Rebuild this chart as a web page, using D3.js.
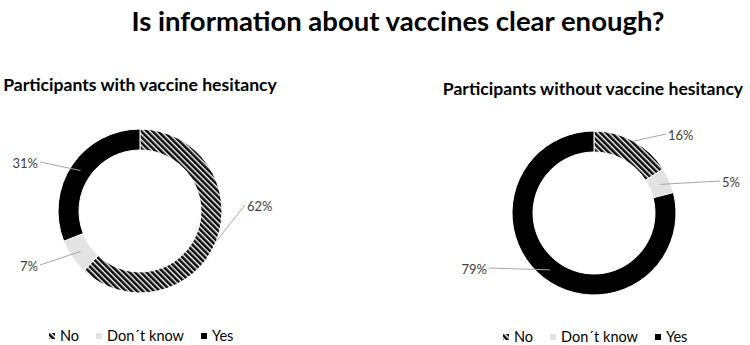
<!DOCTYPE html>
<html>
<head>
<meta charset="utf-8">
<script src="https://cdn.jsdelivr.net/npm/d3@7"></script>
<style>
 body { margin: 0; background: #fff; }
 text { font-family: Lato, "Open Sans", sans-serif; }
</style>
</head>
<body>
<script>
// data
var categories = ["No", "Don\u00b4t know", "Yes"];
var hesitantValues = [62, 7, 31];
var nonHesitantValues = [16, 5, 79];
var panelTitles = ["Participants with vaccine hesitancy", "Participants without vaccine hesitancy"];
var mainTitle = "Is information about vaccines clear enough?";

var width = 750, height = 345;
var outerR = 82, innerR = 61;

var svg = d3.select("body").append("svg")
 .attr("width", width)
 .attr("height", height);

// hatch pattern for "No"
var defs = svg.append("defs");
defs.append("pattern")
 .attr("id", "hatch")
 .attr("patternUnits", "userSpaceOnUse")
 .attr("width", 4)
 .attr("height", 4)
 .attr("patternTransform", "rotate(-45)")
 .call(function(p) {
  p.append("rect").attr("width", 4).attr("height", 4).attr("fill", "#fff");
  p.append("rect").attr("width", 2.6).attr("height", 4).attr("fill", "#0a0a0a");
 });

var fills = ["url(#hatch)", "#e3e3e3", "#000"];
var color = d3.scaleOrdinal().domain(categories).range(fills);

svg.append("text")
 .attr("x", 398)
 .attr("y", 31)
 .attr("text-anchor", "middle")
 .attr("font-size", 27.5)
 .attr("font-weight", "bold")
 .attr("fill", "#000")
 .text(mainTitle);

var pie = d3.pie().sort(null);
var arc = d3.arc().innerRadius(innerR).outerRadius(outerR);

// panel layouts (centres, title spots, label offsets from centre)
var panels = [
 {
  values: hesitantValues, cx: 140, cy: 211, tx: 140, ty: 91,
  labels: [
   { dx: 107, dy: -5, anchor: "start", lineR: 82 },
   { dx: -102, dy: 55, anchor: "end", lineR: 72 },
   { dx: -102, dy: -48, anchor: "end", lineR: 72 }
  ],
  legendX: 49, legendY: 336
 },
 {
  values: nonHesitantValues, cx: 594, cy: 213, tx: 593, ty: 95,
  labels: [
   { dx: 74, dy: -78, anchor: "start", lineR: 82 },
   { dx: 128, dy: -31, anchor: "start", lineR: 72 },
   { dx: -107, dy: 56, anchor: "end", lineR: 72 }
  ],
  legendX: 503, legendY: 337
 }
];

panels.forEach(function(p, pi) {
 svg.append("text")
  .attr("x", p.tx)
  .attr("y", p.ty)
  .attr("text-anchor", "middle")
  .attr("font-size", 17.6)
  .attr("font-weight", "bold")
  .attr("fill", "#000")
  .text(panelTitles[pi]);

 var g = svg.append("g")
  .attr("transform", "translate(" + p.cx + "," + p.cy + ")");

 var arcs = pie(p.values);

 g.selectAll("path")
  .data(arcs)
  .enter().append("path")
  .attr("d", arc)
  .attr("fill", function(d, i) { return color(categories[i]); })
  .attr("stroke", "#fff")
  .attr("stroke-width", 1);

 // leader lines and labels
 arcs.forEach(function(d, i) {
  var lab = p.labels[i];
  var mid = (d.startAngle + d.endAngle) / 2;
  var ex = lab.lineR * Math.sin(mid), ey = -lab.lineR * Math.cos(mid);
  var sx = lab.dx + (lab.anchor == "start" ? -2 : 2);
  g.append("line")
   .attr("x1", sx).attr("y1", lab.dy - 1)
   .attr("x2", ex).attr("y2", ey)
   .attr("stroke", "#a6a6a6")
   .attr("stroke-width", 1);
  g.append("text")
   .attr("x", lab.dx)
   .attr("y", lab.dy)
   .attr("dy", "0.35em")
   .attr("text-anchor", lab.anchor)
   .attr("font-size", 13)
   .attr("fill", "#404040")
   .text(d.data + "%");
 });

 // legend
 var lg = svg.append("g")
  .attr("transform", "translate(" + p.legendX + "," + p.legendY + ")");
 var x = 0;
 categories.forEach(function(c, i) {
  lg.append("rect")
   .attr("x", x).attr("y", -3)
   .attr("width", 6).attr("height", 6)
   .attr("fill", color(c));
  var t = lg.append("text")
   .attr("x", x + 11)
   .attr("y", 0)
   .attr("dy", "0.35em")
   .attr("font-size", 14.5)
   .attr("fill", "#000")
   .text(c);
  x += 11 + t.node().getComputedTextLength() + 17;
 });
});
</script>
</body>
</html>
